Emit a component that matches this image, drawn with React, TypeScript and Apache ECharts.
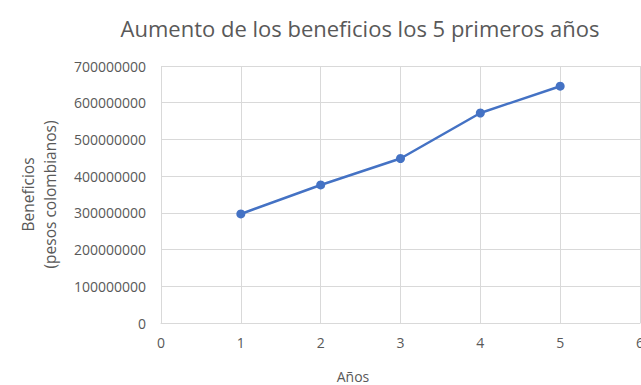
import React, { useEffect, useRef } from "react";
import * as echarts from "echarts";

const years = [1, 2, 3, 4, 5];
const profits = [297000000, 376000000, 448000000, 572000000, 645000000];
const titleText = "Aumento de los beneficios los 5 primeros años";
const yAxisTitle = "Beneficios\n(pesos colombianos)";
const xAxisTitle = "Años";

export default function App() {
  const ref = useRef<HTMLDivElement>(null);
  useEffect(() => {
    if (!ref.current) return;
    const chart = echarts.init(ref.current, undefined, { renderer: "svg" });
    const font = "'Open Sans', sans-serif";
    chart.setOption({
      animation: false,
      backgroundColor: "#ffffff",
      title: {
        text: titleText,
        left: 355,
        top: 12,
        textAlign: "center",
        textStyle: { fontFamily: font, fontSize: 22, fontWeight: "normal", color: "#595959" },
      },
      graphic: [
        {
          type: "text",
          x: 353,
          y: 376,
          style: {
            text: xAxisTitle,
            fontFamily: font,
            fontSize: 14,
            fill: "#595959",
            textAlign: "center",
            textVerticalAlign: "middle",
          },
        },
      ],
      grid: {
        left: 161,
        top: 66,
        right: 1,
        bottom: 62,
        containLabel: false,
        outerBoundsMode: "none",
      },
      xAxis: {
        type: "value",
        min: 0,
        max: 6,
        interval: 1,
        axisLine: { show: true, lineStyle: { color: "#d9d9d9" } },
        axisTick: { show: false },
        axisLabel: { fontFamily: font, fontSize: 14, color: "#595959", margin: 12 },
        splitLine: { show: true, lineStyle: { color: "#d9d9d9" } },
      },
      yAxis: {
        type: "value",
        min: 0,
        max: 700000000,
        interval: 100000000,
        name: yAxisTitle,
        nameLocation: "middle",
        nameGap: 100,
        nameTextStyle: { fontFamily: font, fontSize: 15.5, color: "#595959", lineHeight: 22 },
        axisLine: { show: false },
        axisTick: { show: false },
        axisLabel: {
          fontFamily: font,
          fontSize: 14,
          color: "#595959",
          margin: 15,
          formatter: (v: number) => String(v),
        },
        splitLine: { show: true, lineStyle: { color: "#d9d9d9" } },
      },
      series: [
        {
          type: "line",
          data: years.map((y, i) => [y, profits[i]]),
          symbol: "circle",
          symbolSize: 9,
          itemStyle: { color: "#4472C4" },
          lineStyle: { color: "#4472C4", width: 2.5 },
        },
      ],
    });
    return () => chart.dispose();
  }, []);
  return (
    <div
      ref={ref}
      style={{ position: "absolute", left: 0, top: 0, width: 641, height: 385 }}
    />
  );
}
